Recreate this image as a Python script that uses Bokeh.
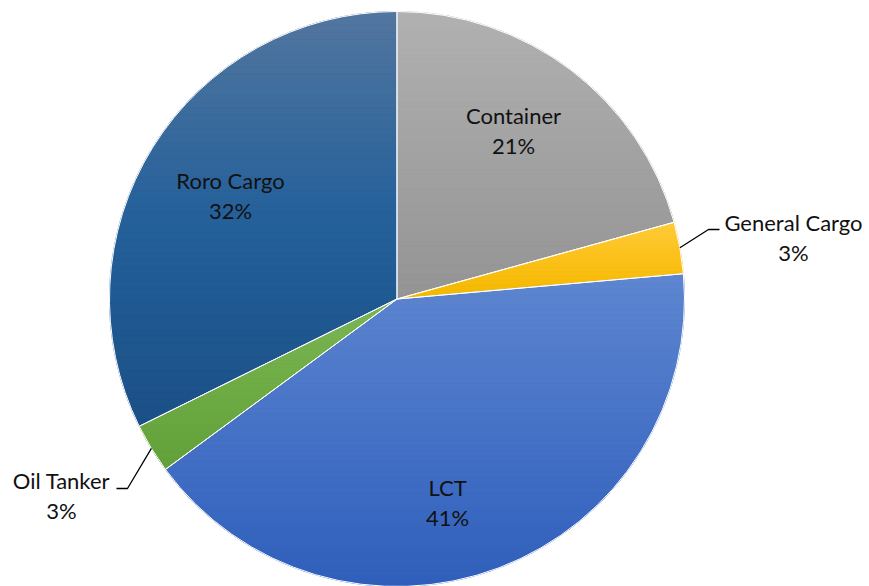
import numpy as np
from bokeh.plotting import figure
from bokeh.models import Range1d, ColumnDataSource
from bokeh.core.properties import value
from bokeh.embed import file_html
from bokeh.resources import INLINE

# ---- data ----
categories = ["Container", "General Cargo", "LCT", "Oil Tanker", "Roro Cargo"]
shares = [20.7, 2.9, 41.3, 2.8, 32.3]

# ---- styles (top, middle, bottom of each slice's vertical gradient) ----
top_colors = ["#b1b1b1", "#ffcb3c", "#5e86d0", "#7bb657", "#52769f"]
mid_colors = ["#a2a2a2", "#fbc11a", "#4672c6", "#6fac45", "#24609a"]
bottom_colors = ["#949494", "#f2b800", "#2f5fbb", "#62a03b", "#1a5086"]
base_colors = ["#a5a5a5", "#ffc000", "#4472c4", "#70ad47", "#255e91"]

# ---- layout (page pixel coordinates) ----
W, H = 869, 586
cx_page, cy_page, R = 396.5, 298.5, 287.5
label_pos = {
    "Container": (513, 115),
    "General Cargo": (793, 222),
    "LCT": (447, 487),
    "Oil Tanker": (61, 480),
    "Roro Cargo": (230, 180),
}
leaders = {
    "General Cargo": [(708, 229), (719, 229)],
    "Oil Tanker": [(127, 488), (116, 488)],
}
LINE_GAP = 30

def Y(py):
    return H - py

cx, cy = cx_page, Y(cy_page)

p = figure(width=W, height=H, output_backend="svg", toolbar_location=None,
           x_range=Range1d(0, W), y_range=Range1d(0, H), min_border=0)
p.axis.visible = False
p.grid.visible = False
p.outline_line_color = None
p.background_fill_color = "white"

total = float(sum(shares))
fr = np.array(shares) / total
cum = np.concatenate([[0], np.cumsum(fr)])
a_start = np.pi / 2 - 2 * np.pi * cum[:-1]
a_end = np.pi / 2 - 2 * np.pi * cum[1:]

src = ColumnDataSource(dict(cat=categories, start=a_end, end=a_start, color=base_colors))
p.wedge(x=cx, y=cy, radius=R, start_angle="start", end_angle="end",
        fill_color="color", line_color="white", line_width=1, source=src)

def hex2rgb(h):
    h = h.lstrip("#")
    return np.array([int(h[i:i + 2], 16) for i in (0, 2, 4)], dtype=float)

def rgb2hex(c):
    return "#%02x%02x%02x" % tuple(int(round(v)) for v in c)

def grad(t, c0, c1, c2):
    if t < 0.5:
        u = t / 0.5
        return c0 * (1 - u) + c1 * u
    u = (t - 0.5) / 0.5
    return c1 * (1 - u) + c2 * u

def clip_half(pts, yb, above):
    out = []
    n = len(pts)
    for i in range(n):
        P, Q = pts[i], pts[(i + 1) % n]
        inP = P[1] >= yb if above else P[1] <= yb
        inQ = Q[1] >= yb if above else Q[1] <= yb
        if inP:
            out.append(P)
        if inP != inQ:
            t = (yb - P[1]) / (Q[1] - P[1])
            out.append((P[0] + t * (Q[0] - P[0]), yb))
    return out

NB = 60
for i in range(len(categories)):
    th = np.linspace(a_start[i], a_end[i], 200)
    poly = [(cx, cy)] + [(cx + R * np.cos(t), cy + R * np.sin(t)) for t in th]
    ys = [q[1] for q in poly]
    ymax, ymin = max(ys), min(ys)
    c0, c1, c2 = hex2rgb(top_colors[i]), hex2rgb(mid_colors[i]), hex2rgb(bottom_colors[i])
    xs_l, ys_l, cols = [], [], []
    edges = np.linspace(ymax, ymin, NB + 1)
    for k in range(NB):
        hi, lo = edges[k], edges[k + 1]
        band = clip_half(clip_half(poly, hi, False), lo, True)
        if len(band) < 3:
            continue
        t = (k + 0.5) / NB
        cols.append(rgb2hex(grad(t, c0, c1, c2)))
        xs_l.append([q[0] for q in band])
        ys_l.append([q[1] for q in band])
    p.patches(xs=xs_l, ys=ys_l, fill_color=cols, line_color=cols, line_width=0.8)

# white separators on top
p.wedge(x=cx, y=cy, radius=R, start_angle="start", end_angle="end",
        fill_alpha=0, line_color="white", line_width=1, source=src)

# labels
pct = ["%d%%" % round(f * 100) for f in fr]
lx, ly, lt = [], [], []
for c, s in zip(categories, pct):
    x0, y0 = label_pos[c]
    lx += [x0, x0]
    ly += [Y(y0), Y(y0 + LINE_GAP)]
    lt += [c, s]
p.text(x=lx, y=ly, text=lt, text_font=value("Lato"), text_font_size="22px",
       text_align="center", text_baseline="middle", text_color="#111111")

# leader lines
mid = (a_start + a_end) / 2
for i, c in enumerate(categories):
    if c in leaders:
        sx, sy = cx + R * np.cos(mid[i]), cy + R * np.sin(mid[i])
        pts = leaders[c]
        p.line(x=[sx] + [q[0] for q in pts], y=[sy] + [Y(q[1]) for q in pts],
               line_color="black", line_width=1.3)

open("out.html", "w").write(file_html(p, INLINE))
